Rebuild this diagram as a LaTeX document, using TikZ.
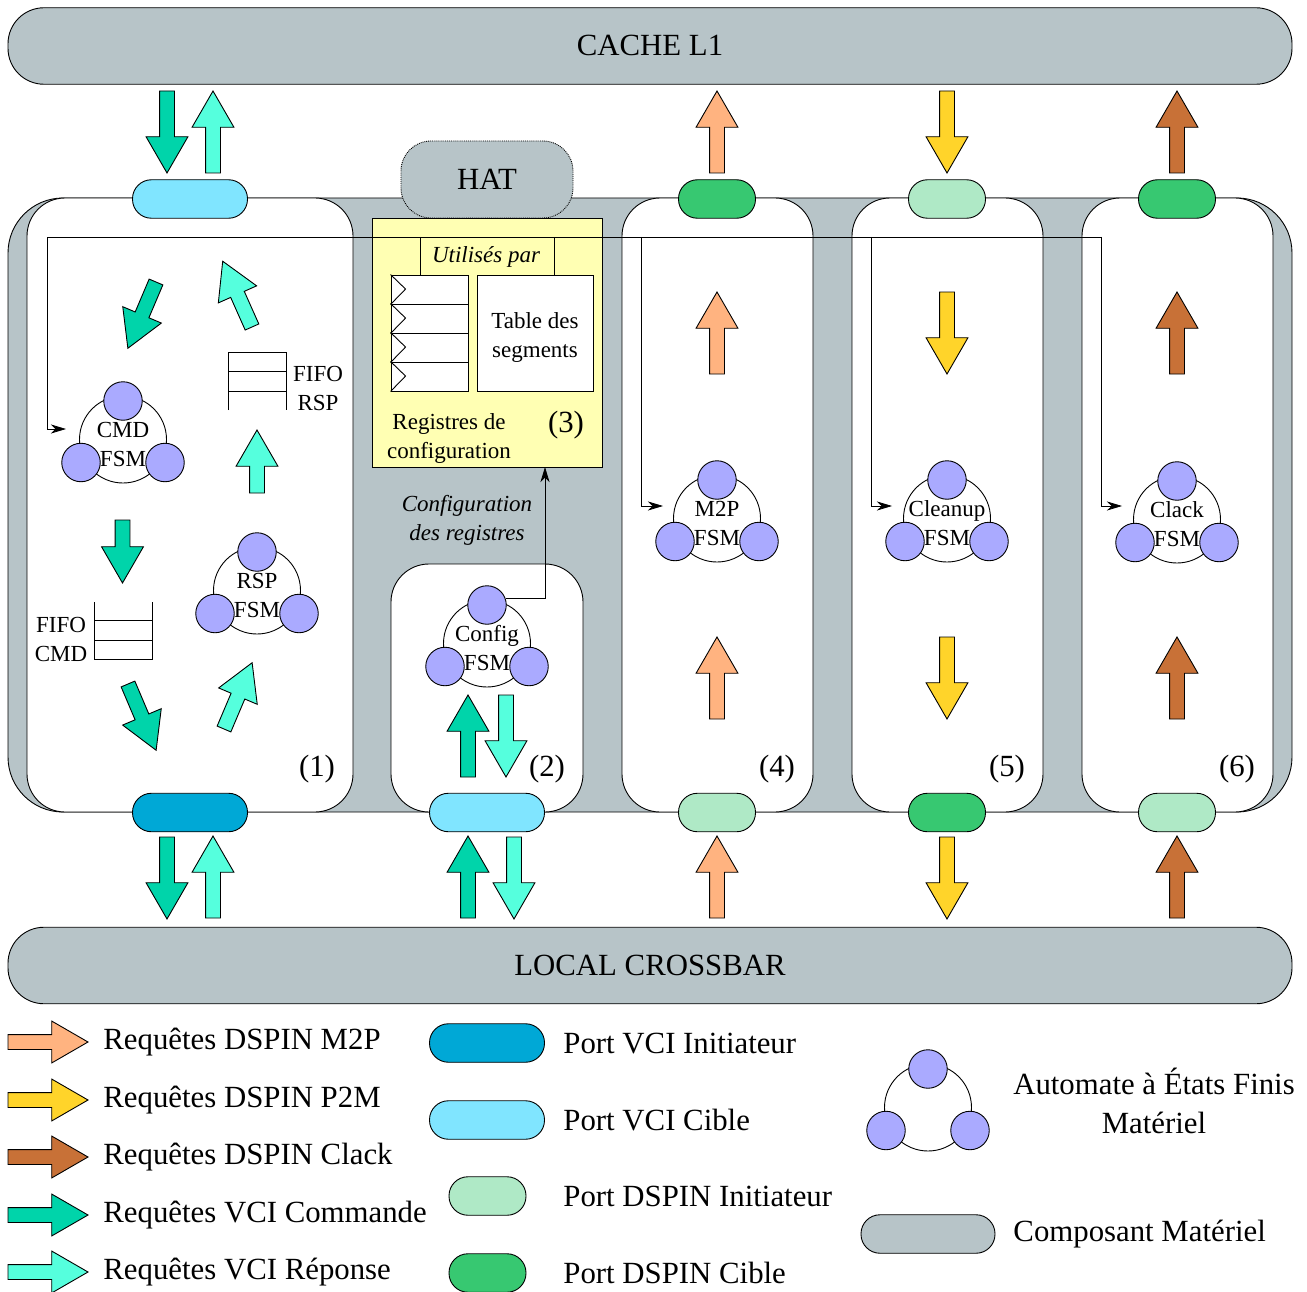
\documentclass[tikz,border=0pt]{standalone}
\usepackage{fontspec}
\setmainfont{Liberation Serif}
\usetikzlibrary{shapes.arrows,arrows.meta}
\definecolor{busgrey}{HTML}{B7C4C8}
\definecolor{fsmblue}{HTML}{AAAAFF}
\definecolor{regyellow}{HTML}{FFFFB3}
\definecolor{vciinit}{HTML}{00A8D6}
\definecolor{vcitgt}{HTML}{80E5FF}
\definecolor{dspininit}{HTML}{AFE9C6}
\definecolor{dspintgt}{HTML}{37C871}
\definecolor{reqmtop}{HTML}{FFB380}
\definecolor{reqptom}{HTML}{FFD42A}
\definecolor{reqclack}{HTML}{C87137}
\definecolor{reqcmd}{HTML}{00D4AA}
\definecolor{reqrsp}{HTML}{55FFDD}
\tikzset{
    x=1pt,y=-1pt,
    every path/.style={line width=0.9pt},
    big/.style={font=\fontsize{30.8}{34}\selectfont,text height=27pt,text depth=7pt},
    lbl/.style={font=\fontsize{23}{27}\selectfont,inner sep=0pt,text height=16pt,text depth=5pt},
    biglbl/.style={font=\fontsize{30.8}{34}\selectfont,inner sep=0pt,text height=21pt,text depth=7pt},
    bus/.style={draw,fill=busgrey,big,rounded corners=36pt,minimum width=1284,minimum height=76.5,inner sep=0pt},
    module/.style={draw,fill=white,rounded corners=38pt,minimum height=614,inner sep=0pt},
    port/.style={draw,rounded corners=19pt,minimum height=38.5,inner sep=0pt},
    vciport/.style={port,minimum width=115},
    dspinport/.style={port,minimum width=77},
    blockarrow/.style={single arrow,draw,inner sep=0pt,outer sep=0pt,text width=0pt,text height=14pt,text depth=0pt,
        single arrow head extend=13.5pt,single arrow tip angle=60,anchor=tail,minimum height=82pt,minimum width=0pt},
    bigstate/.style={draw,circle,fill=white,minimum size=87,inner sep=0pt},
    state/.style={draw,circle,fill=fsmblue,minimum size=38.5,inner sep=0pt},
    wire/.style={line width=0.8pt,-{Stealth[length=15pt,width=9pt,inset=4.5pt]}},
    cell/.style={draw,fill=white,minimum width=77,minimum height=29,inner sep=0pt},
}
% FSM icon: name, top circle x, top circle y
\newcommand{\fsmicon}[3]{
    \node[bigstate] (#1big) at (#2,#3+38.5) {};
    \node[state] (#1top) at (#2,#3) {};
    \node[state] (#1left) at (#2-42,#3+61.5) {};
    \node[state] (#1right) at (#2+42,#3+61.5) {};
}
\begin{document}
\begin{tikzpicture}
    \useasboundingbox (0,0) rectangle (1307,1292);
    %% buses
    \node[bus] (cache) at (650,46) {CACHE L1};
    \node[bus] (crossbar) at (650,965.5) {LOCAL CROSSBAR};
    %% grey tile
    \node[draw,fill=busgrey,rounded corners=55pt,minimum width=1284,minimum height=614] (tile) at (650,505) {};
    %% modules
    \node[module,minimum width=326] (mod1) at (190,505) {};
    \node[module,minimum width=192,minimum height=248] (mod2) at (487,688) {};
    \node[module,minimum width=191] (mod4) at (717.5,505) {};
    \node[module,minimum width=191] (mod5) at (947.5,505) {};
    \node[module,minimum width=191] (mod6) at (1177.5,505) {};
    %% HAT and registers
    \node[draw,densely dotted,fill=busgrey,rounded corners=30pt,big,minimum width=172,minimum height=77,inner sep=0pt] (hat) at (487,179.5) {HAT};
    \node[draw,fill=regyellow,minimum width=230,minimum height=249,inner sep=0pt] (regs) at (487,342.5) {};
    %% wires of the registers
    \coordinate (wireleft) at (47,237);
    \coordinate (wireright) at (1101,237);
    \coordinate (cmdin) at (66,429);
    \coordinate (m2pdrop) at (641,237);
    \coordinate (m2pin) at (663,506);
    \coordinate (cleanupdrop) at (871,237);
    \coordinate (cleanupin) at (892,506);
    \coordinate (clackin) at (1122,506);
    \draw[wire] (wireright) -- (wireleft) |- (cmdin);
    \draw[wire] (m2pdrop) |- (m2pin);
    \draw[wire] (cleanupdrop) |- (cleanupin);
    \draw[wire] (wireright) |- (clackin);
    \foreach \r in {0,1,2,3} {
        \node[cell] (reg\r) at (429.5,289.5+29*\r) {};
        \draw (reg\r.north west) -- ++(15,14.5) -- (reg\r.south west);
    }
    \node[draw,fill=white,minimum width=116,minimum height=116,inner sep=0pt] (segtable) at (535,333) {};
    \coordinate (usedleft) at (420,237);
    \coordinate (usedright) at (554,237);
    \draw (usedleft) -- (usedleft |- reg0.north);
    \draw (usedright) -- (usedright |- segtable.north);
    \node[lbl] (used) at (486,256.5) {\itshape Utilisés par};
    \node[lbl] (tablea) at (535,322.5) {Table des};
    \node[lbl] (tableb) at (535,352) {segments};
    \node[lbl] (rega) at (449,423.5) {Registres de};
    \node[lbl] (regb) at (449,452.5) {configuration};
    \node[biglbl] (num3) at (566,425) {(3)};
    \node[lbl] (cfga) at (467,505.5) {\itshape Configuration};
    \node[lbl] (cfgb) at (467,534.5) {\itshape des registres};
    %% FSMs
    \fsmicon{cmd}{123}{401}
    \fsmicon{rsp}{257}{552}
    \fsmicon{cfg}{487}{605}
    \fsmicon{mtwop}{717}{480}
    \fsmicon{cleanup}{947}{480}
    \fsmicon{clack}{1177}{481}
    \foreach \n/\x/\y/\a/\b in {cmd/123/401/CMD/FSM,rsp/257/552/RSP/FSM,cfg/487/605/Config/FSM,mtwop/717/480/M2P/FSM,cleanup/947/480/Cleanup/FSM,clack/1177/481/Clack/FSM} {
        \node[lbl] (\n a) at (\x,\y+30.5) {\a};
        \node[lbl] (\n b) at (\x,\y+59.5) {\b};
    }
    \coordinate (regin) at (545,467);
    \draw[wire] (cfgtop.20) -| (regin);
    %% FIFOs
    \coordinate (frspa) at (228,410);
    \coordinate (frspb) at (286,410);
    \draw (frspa) -- (228,352) -- (286,352) -- (frspb);
    \draw (228,371) -- (286,371);
    \draw (228,391) -- (286,391);
    \draw (94,602) -- (94,659) -- (152,659) -- (152,602);
    \draw (94,620) -- (152,620);
    \draw (94,640) -- (152,640);
    \node[lbl] (frsp1) at (318,376) {FIFO};
    \node[lbl] (frsp2) at (318,405) {RSP};
    \node[lbl] (fcmd1) at (61,627) {FIFO};
    \node[lbl] (fcmd2) at (61,656) {CMD};
    %% ports
    \node[vciport,fill=vcitgt] (pa) at (190,199) {};
    \node[vciport,fill=vciinit] (pb) at (190,812.5) {};
    \node[vciport,fill=vcitgt] (pc) at (487,812.5) {};
    \node[dspinport,fill=dspintgt] (pd) at (717,199) {};
    \node[dspinport,fill=dspininit] (pe) at (947,199) {};
    \node[dspinport,fill=dspintgt] (pf) at (1177,199) {};
    \node[dspinport,fill=dspininit] (pg) at (717,812.5) {};
    \node[dspinport,fill=dspintgt] (ph) at (947,812.5) {};
    \node[dspinport,fill=dspininit] (pi) at (1177,812.5) {};
    %% numbers
    \foreach \n/\x in {1/317,2/547,4/777,5/1007,6/1237}
        \node[biglbl] (num\n) at (\x,769.5) {(\n)};
    %% block arrows
    \foreach \x/\y/\a/\c [count=\i] in {
        167/91/-90/reqcmd,213/173/90/reqrsp,717/173/90/reqmtop,947/91/-90/reqptom,1177/173/90/reqclack,
        717/374/90/reqmtop,717/719/90/reqmtop,947/292/-90/reqptom,947/637/-90/reqptom,1177/374/90/reqclack,1177/719/90/reqclack,
        167/837/-90/reqcmd,213/918/90/reqrsp,468/918/90/reqcmd,514/837/-90/reqrsp,717/918/90/reqmtop,947/837/-90/reqptom,1177/918/90/reqclack,
        468/777/90/reqcmd,506/695/-90/reqrsp}
        \node[blockarrow,fill=\c,rotate=\a] (flow\i) at (\x,\y) {};
    \foreach \x/\y/\a/\c/\l [count=\i] in {
        156/282/-113/reqcmd/72,252/327/114/reqrsp/72,257/493/90/reqrsp/63,122.5/520/-90/reqcmd/63,
        128/684/-67/reqcmd/72,224/729/67/reqrsp/72}
        \node[blockarrow,fill=\c,rotate=\a,minimum height=\l] (inner\i) at (\x,\y) {};
    %% legend
    \foreach \y/\c/\t [count=\i] in {
        1042/reqmtop/Requêtes DSPIN M2P,1100/reqptom/Requêtes DSPIN P2M,1157/reqclack/Requêtes DSPIN Clack,
        1215/reqcmd/Requêtes VCI Commande,1272/reqrsp/Requêtes VCI Réponse} {
        \node[blockarrow,fill=\c,minimum height=80] (legarrow\i) at (8,\y) {};
        \node[biglbl,anchor=west] (legtext\i) at (103,\y+0.5) {\t};
    }
    \node[vciport,fill=vciinit] (legvi) at (487,1043) {};
    \node[vciport,fill=vcitgt] (legvt) at (487,1120) {};
    \node[dspinport,fill=dspininit] (legdi) at (487.5,1196) {};
    \node[dspinport,fill=dspintgt] (legdt) at (487.5,1273) {};
    \node[biglbl,anchor=west] (legvitext) at (563,1046) {Port VCI Initiateur};
    \node[biglbl,anchor=west] (legvttext) at (563,1123) {Port VCI Cible};
    \node[biglbl,anchor=west] (legditext) at (563,1199) {Port DSPIN Initiateur};
    \node[biglbl,anchor=west] (legdttext) at (563,1276) {Port DSPIN Cible};
    \fsmicon{leg}{928}{1069}
    \node[biglbl] (legfsma) at (1154,1087) {Automate à États Finis};
    \node[biglbl] (legfsmb) at (1154,1126) {Matériel};
    \node[draw,fill=busgrey,rounded corners=19pt,minimum width=134,minimum height=38.5,inner sep=0pt] (legcomp) at (928,1234) {};
    \node[biglbl,anchor=west] (legcomptext) at (1013,1234) {Composant Matériel};
\end{tikzpicture}
\end{document}
